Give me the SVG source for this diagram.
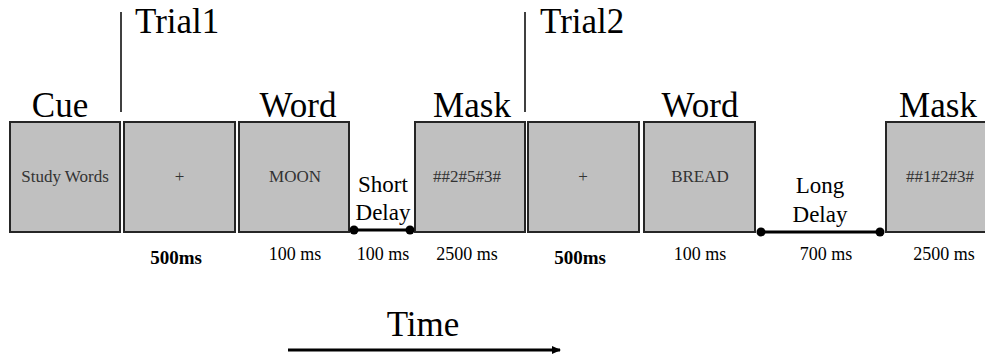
<svg xmlns="http://www.w3.org/2000/svg" width="985" height="355" viewBox="0 0 985 355">
<style>
.box{fill:#c0c0c0;stroke:#262626;stroke-width:2}
.h{font-family:"Liberation Serif","Times New Roman",serif;font-size:35px;fill:#000}
.in{font-family:"Liberation Serif","Times New Roman",serif;font-size:17px;fill:#333;text-anchor:middle}
.d{font-family:"Liberation Serif","Times New Roman",serif;font-size:23px;fill:#000;text-anchor:middle}
.t{font-family:"Liberation Serif","Times New Roman",serif;font-size:18px;fill:#000;text-anchor:middle}
.tb{font-family:"Liberation Serif","Times New Roman",serif;font-size:19px;font-weight:bold;fill:#000;text-anchor:middle}
.sep{stroke:#000;stroke-width:1.5}
.con{stroke:#000;stroke-width:3}
</style>
<defs>
<marker id="ah" markerWidth="10" markerHeight="10" refX="8" refY="5" orient="auto" markerUnits="userSpaceOnUse">
<path d="M0,1 L9,5 L0,9 Z" fill="#000"/>
</marker>
</defs>
<text class="h" x="135" y="33">Trial1</text>
<text class="h" x="540" y="33">Trial2</text>
<line class="sep" x1="121" y1="12" x2="121" y2="112"/>
<line class="sep" x1="525" y1="12" x2="525" y2="112"/>
<g id="cue">
<text class="h" x="60" y="117" text-anchor="middle">Cue</text>
<rect class="box" x="10" y="122" width="110" height="110"/>
<text class="in" x="65" y="182">Study Words</text>
</g>
<g id="fix1">
<rect class="box" x="124" y="122" width="111" height="110"/>
<text class="in" x="179.5" y="182">+</text>
<text class="tb" x="176" y="264">500ms</text>
</g>
<g id="word1">
<text class="h" x="298" y="117" text-anchor="middle">Word</text>
<rect class="box" x="239" y="122" width="110" height="110"/>
<text class="in" x="295" y="182">MOON</text>
<text class="t" x="295" y="260">100 ms</text>
</g>
<g id="shortdelay">
<text class="d" x="383" y="192">Short</text>
<text class="d" x="383" y="220">Delay</text>
<text class="t" x="383" y="260">100 ms</text>
</g>
<g id="mask1">
<text class="h" x="472" y="117" text-anchor="middle">Mask</text>
<rect class="box" x="415" y="122" width="110" height="110"/>
<text class="in" x="467" y="182">##2#5#3#</text>
<text class="t" x="467" y="260">2500 ms</text>
</g>
<g id="fix2">
<rect class="box" x="528" y="122" width="111" height="110"/>
<text class="in" x="583" y="182">+</text>
<text class="tb" x="580" y="264">500ms</text>
</g>
<g id="word2">
<text class="h" x="700" y="117" text-anchor="middle">Word</text>
<rect class="box" x="644" y="122" width="111" height="110"/>
<text class="in" x="700" y="182">BREAD</text>
<text class="t" x="700" y="260">100 ms</text>
</g>
<g id="longdelay">
<text class="d" x="820" y="193">Long</text>
<text class="d" x="820" y="222">Delay</text>
<text class="t" x="826" y="260">700 ms</text>
</g>
<g id="mask2">
<text class="h" x="938" y="117" text-anchor="middle">Mask</text>
<rect class="box" x="886" y="122" width="110" height="110"/>
<text class="in" x="940" y="182">##1#2#3#</text>
<text class="t" x="944" y="260">2500 ms</text>
</g>
<g id="connectors">
<line class="con" x1="354" y1="230" x2="410" y2="230"/>
<circle cx="354" cy="230" r="4.5"/>
<circle cx="410" cy="230" r="4.5"/>
<line class="con" x1="761" y1="232" x2="880" y2="232"/>
<circle cx="761" cy="232" r="4.5"/>
<circle cx="880" cy="232" r="4.5"/>
<line stroke="#000" stroke-width="3" x1="288" y1="350" x2="560" y2="350" marker-end="url(#ah)"/>
</g>
<text class="h" x="423" y="336" text-anchor="middle" font-size="38">Time</text>
</svg>
